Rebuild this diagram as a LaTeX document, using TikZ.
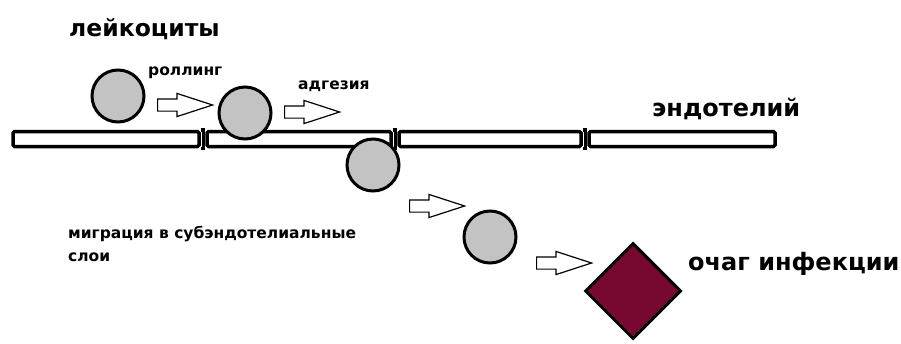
\documentclass[tikz,border=0pt]{standalone}
\usepackage{fontspec}
\setmainfont{DejaVu Sans}
\usetikzlibrary{shapes.geometric,shapes.arrows}
\definecolor{cellgrey}{RGB}{195,195,195}
\definecolor{focusred}{RGB}{118,8,50}
\tikzset{
  cell/.style={circle,draw,line width=3pt,fill=cellgrey,minimum size=52pt,inner sep=0pt},
  wall/.style={rectangle,draw,line width=3.5pt,rounded corners=1.5pt,minimum height=15pt,inner sep=0pt},
  move/.style={single arrow,draw,line width=1.2pt,fill=white,minimum height=55pt,anchor=tail,
    text height=0pt,text depth=0pt,inner xsep=0pt,inner ysep=5.5pt,
    single arrow head extend=5.5pt,single arrow tip angle=36},
  big/.style={font=\bfseries\fontsize{24}{30}\selectfont,anchor=base west,inner sep=0pt},
  small/.style={font=\bfseries\fontsize{15.5}{23}\selectfont,anchor=base west,inner sep=0pt}
}
\begin{document}
\begin{tikzpicture}[x=1pt,y=-1pt]
  \useasboundingbox (0,0) rectangle (901,343);
  % endothelium
  \node[wall,minimum width=186pt] (e1) at (106,139) {};
  \node[wall,minimum width=184pt] (e2) at (299,139) {};
  \node[wall,minimum width=182pt] (e3) at (490,139) {};
  \node[wall,minimum width=186pt] (e4) at (682,139) {};
  \begin{scope}[line width=3.5pt]
    \draw (e1.north east) -- (e2.north west);
    \draw (e1.south east) -- (e2.south west);
    \draw (e2.north east) -- (e3.north west);
    \draw (e2.south east) -- (e3.south west);
    \draw (e3.north east) -- (e4.north west);
    \draw (e3.south east) -- (e4.south west);
  \end{scope}
  \fill (201.5,131) rectangle (204.5,147);
  \fill (393.5,131) rectangle (396.5,147);
  \fill (583.5,131) rectangle (586.5,147);
  % leukocytes
  \node[cell] (c1) at (118,96) {};
  \node[cell] (c2) at (245,113) {};
  \node[cell] (c3) at (373,165) {};
  \node[cell] (c4) at (490,237) {};
  \node[diamond,draw,line width=3pt,fill=focusred,minimum size=96pt,inner sep=0pt] (f) at (633,291) {};
  % steps
  \node[move] (a1) at (157,105) {};
  \node[move] (a2) at (284,112) {};
  \node[move] (a3) at (409,206) {};
  \node[move] (a4) at (536,263) {};
  % labels
  \node[big,font=\bfseries\fontsize{23.5}{30}\selectfont] (t1) at (69,36) {лейкоциты};
  \node[small] (t2) at (148,75) {роллинг};
  \node[small] (t3) at (298,89) {адгезия};
  \node[big] (t4) at (652,116) {эндотелий};
  \node[small,align=left] (t5) at (68,261) {миграция в субэндотелиальные\\слои};
  \node[big] (t6) at (688,270) {очаг инфекции};
\end{tikzpicture}
\end{document}
